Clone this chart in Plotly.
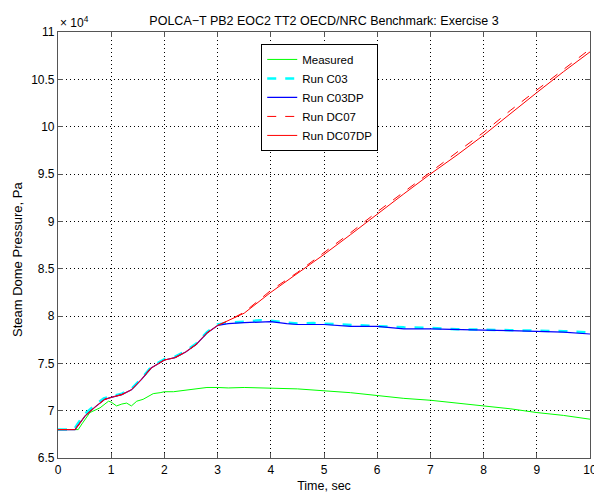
import plotly.graph_objects as go

# Time (s) and steam dome pressure (x 10^4 Pa)
t_meas = [0, 0.38, 0.45, 0.6, 0.79, 0.95, 1.0, 1.1, 1.2, 1.29, 1.38, 1.48, 1.6, 1.7, 1.79,
          1.92, 2.0, 2.17, 2.3, 2.48, 2.65, 2.8, 3.0, 3.2, 3.5, 3.8, 4.0, 4.5, 5.0, 5.5,
          6.0, 6.5, 7.0, 7.5, 8.0, 8.5, 9.0, 9.5, 10.0]
p_meas = [6.80, 6.80, 6.86, 6.98, 7.03, 7.10, 7.09, 7.05, 7.07, 7.08, 7.05, 7.10, 7.12, 7.15, 7.18,
          7.19, 7.20, 7.20, 7.21, 7.22, 7.23, 7.245, 7.245, 7.24, 7.245, 7.24, 7.24, 7.23, 7.21, 7.19,
          7.16, 7.13, 7.11, 7.08, 7.05, 7.02, 6.98, 6.95, 6.91]

t_c03 = [0, 0.30, 0.38, 0.49, 0.68, 0.86, 1.0, 1.2, 1.38, 1.57, 1.75, 2.0, 2.2, 2.4, 2.6, 2.8,
         3.0, 3.2, 3.5, 3.8, 4.0, 4.3, 4.5, 4.8, 5.0, 5.5, 6.0, 6.5, 7.0, 7.5, 8.0, 8.5, 9.0, 9.5, 10.0]
p_c03 = [6.80, 6.80, 6.87, 6.96, 7.05, 7.13, 7.15, 7.18, 7.23, 7.34, 7.46, 7.545, 7.57, 7.63, 7.71, 7.83,
         7.91, 7.93, 7.94, 7.955, 7.95, 7.93, 7.92, 7.925, 7.92, 7.90, 7.895, 7.88, 7.875, 7.86, 7.855, 7.85, 7.845, 7.84, 7.825]

t_c03dp = [0, 0.32, 0.4, 0.51, 0.7, 0.88, 1.0, 1.2, 1.38, 1.57, 1.75, 2.0, 2.2, 2.4, 2.6, 2.8,
           3.0, 3.2, 3.5, 3.8, 4.0, 4.3, 4.5, 5.0, 5.5, 6.0, 6.5, 7.0, 7.5, 8.0, 8.5, 9.0, 9.5, 10.0]
p_c03dp = [6.80, 6.80, 6.86, 6.945, 7.04, 7.12, 7.14, 7.17, 7.22, 7.33, 7.45, 7.535, 7.56, 7.62, 7.70, 7.82,
           7.90, 7.92, 7.93, 7.94, 7.94, 7.92, 7.91, 7.91, 7.89, 7.89, 7.865, 7.865, 7.855, 7.85, 7.845, 7.84, 7.83, 7.81]

t_dc07 = [0, 0.32, 0.4, 0.51, 0.7, 0.88, 1.0, 1.2, 1.38, 1.57, 1.75, 2.0, 2.2, 2.4, 2.6, 2.8,
          3.0, 3.2, 3.5, 4.0, 4.5, 5.0, 5.5, 6.0, 6.5, 7.0, 7.5, 8.0, 8.5, 9.0, 9.5, 10.0]
p_dc07 = [6.80, 6.80, 6.86, 6.945, 7.04, 7.12, 7.14, 7.17, 7.22, 7.33, 7.45, 7.535, 7.56, 7.62, 7.70, 7.82,
          7.90, 7.95, 8.04, 8.27, 8.46, 8.67, 8.88, 9.10, 9.31, 9.52, 9.73, 9.94, 10.17, 10.39, 10.61, 10.82]

t_dc07dp = [0, 0.32, 0.4, 0.51, 0.7, 0.88, 1.0, 1.2, 1.38, 1.57, 1.75, 2.0, 2.2, 2.4, 2.6, 2.8,
            3.0, 3.2, 3.5, 4.0, 4.5, 5.0, 5.5, 6.0, 6.5, 7.0, 7.5, 8.0, 8.5, 9.0, 9.5, 10.0]
p_dc07dp = [6.80, 6.80, 6.86, 6.945, 7.04, 7.12, 7.14, 7.17, 7.22, 7.33, 7.45, 7.535, 7.56, 7.62, 7.70, 7.82,
            7.90, 7.95, 8.03, 8.25, 8.45, 8.65, 8.86, 9.08, 9.29, 9.50, 9.70, 9.91, 10.14, 10.36, 10.58, 10.79]

x_ticks = [0, 1, 2, 3, 4, 5, 6, 7, 8, 9, 10]
y_ticks = [6.5, 7, 7.5, 8, 8.5, 9, 9.5, 10, 10.5, 11]
y_tick_text = ["6.5", "7", "7.5", "8", "8.5", "9", "9.5", "10", "10.5", "11"]

FONT = "Liberation Sans, Arial, sans-serif"

fig = go.Figure()
fig.add_trace(go.Scatter(x=t_meas, y=p_meas, mode="lines", name="Measured",
                         line=dict(color="#00ff00", width=1)))
fig.add_trace(go.Scatter(x=t_c03, y=p_c03, mode="lines", name="Run C03",
                         line=dict(color="#00ffff", width=2.5, dash="dash")))
fig.add_trace(go.Scatter(x=t_c03dp, y=p_c03dp, mode="lines", name="Run C03DP",
                         line=dict(color="#0000ff", width=1.2)))
fig.add_trace(go.Scatter(x=t_dc07, y=p_dc07, mode="lines", name="Run DC07",
                         line=dict(color="#ff0000", width=1, dash="dash")))
fig.add_trace(go.Scatter(x=t_dc07dp, y=p_dc07dp, mode="lines", name="Run DC07DP",
                         line=dict(color="#ff0000", width=1)))

axis_common = dict(
    showline=True, linecolor="#555555", linewidth=1.2, mirror="allticks",
    ticks="inside", ticklen=5, tickcolor="#555555",
    showgrid=True, gridcolor="#000000", gridwidth=1, griddash="1px,3px",
    zeroline=False, automargin=False,
    tickfont=dict(family=FONT, size=12, color="#000000"),
)

# The page body has an 8px default margin, so the figure is sized to fit the window.
fig.update_layout(
    width=594, height=488,
    margin=dict(l=50, r=12, t=24, b=38, autoexpand=False),
    paper_bgcolor="white", plot_bgcolor="white",
    font=dict(family=FONT, size=12, color="#000000"),
    title=dict(text="POLCA\u2212T PB2 EOC2 TT2 OECD/NRC Benchmark: Exercise 3",
               x=0.5, xref="paper", xanchor="center", y=0.974, yanchor="middle",
               font=dict(family=FONT, size=12.5, color="#000000")),
    xaxis=dict(range=[0, 10], tickvals=x_ticks,
               title=dict(text="Time, sec", standoff=5, font=dict(family=FONT, size=12.5)),
               **axis_common),
    yaxis=dict(range=[6.5, 11], tickvals=y_ticks, ticktext=y_tick_text, **axis_common),
    legend=dict(x=0.382, y=0.972, xanchor="left", yanchor="top",
                bgcolor="white", bordercolor="#000000", borderwidth=1,
                font=dict(family=FONT, size=11.5), tracegroupgap=0, itemwidth=30),
    showlegend=True,
    annotations=[
        dict(text="\u00d7 10<sup>4</sup>", xref="paper", yref="paper",
             x=0.0, y=1.0, xanchor="left", yanchor="bottom", yshift=0,
             showarrow=False, font=dict(family=FONT, size=12, color="#000000")),
        dict(text="Steam Dome Pressure, Pa", xref="paper", yref="paper",
             x=-0.075, y=0.465, xanchor="center", yanchor="middle", textangle=-90,
             showarrow=False, font=dict(family=FONT, size=13, color="#000000")),
    ],
)

fig.write_html("out.html")
